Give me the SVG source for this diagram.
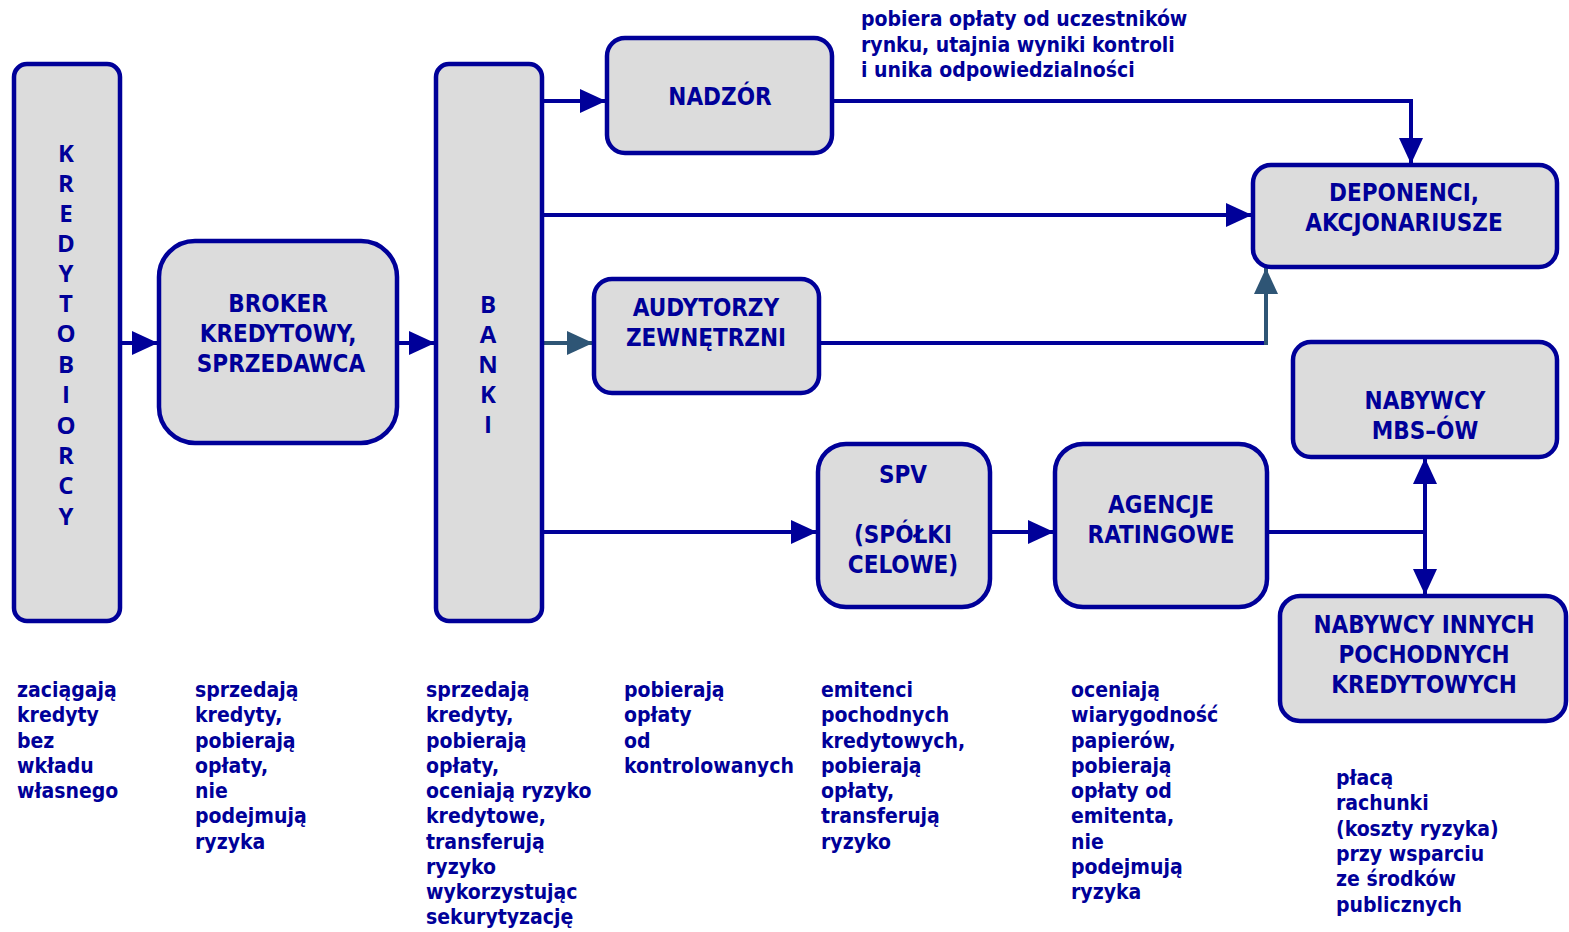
<svg xmlns="http://www.w3.org/2000/svg" width="1569" height="932" viewBox="0 0 1569 932">
<defs>
<style>
.n{fill:#DCDCDC;stroke:#000099;stroke-width:4.5}
.t{font-family:"DejaVu Sans","Liberation Sans",sans-serif;font-stretch:condensed;font-weight:bold;fill:#000099}
.nt{font-size:24px;text-anchor:middle}
.vt{font-family:"Open Sans","DejaVu Sans",sans-serif;font-weight:bold;fill:#000099;font-size:24px;text-anchor:middle}
.d{font-size:21px}
.c{fill:none;stroke:#000099;stroke-width:4}
.ct{fill:none;stroke:#2E5575;stroke-width:4}
</style>
<marker id="ah" viewBox="0 0 26 24" markerWidth="26" markerHeight="24" refX="26" refY="12" orient="auto" markerUnits="userSpaceOnUse"><path d="M0,0 L26,12 L0,24 Z" fill="#000099"/></marker>
<marker id="ahs" viewBox="0 0 26 24" markerWidth="26" markerHeight="24" refX="26" refY="12" orient="auto-start-reverse" markerUnits="userSpaceOnUse"><path d="M0,0 L26,12 L0,24 Z" fill="#000099"/></marker>
<marker id="aht" viewBox="0 0 26 24" markerWidth="26" markerHeight="24" refX="26" refY="12" orient="auto" markerUnits="userSpaceOnUse"><path d="M0,0 L26,12 L0,24 Z" fill="#2E5575"/></marker>
</defs>
<rect width="1569" height="932" fill="#FFFFFF"/>
<g id="connectors">
<line class="c" x1="120" y1="343" x2="158" y2="343" marker-end="url(#ah)"/>
<line class="c" x1="397" y1="343" x2="435" y2="343" marker-end="url(#ah)"/>
<line class="c" x1="542" y1="101" x2="606" y2="101" marker-end="url(#ah)"/>
<line class="c" x1="542" y1="215" x2="1252" y2="215" marker-end="url(#ah)"/>
<line class="ct" x1="542" y1="343" x2="593" y2="343" marker-end="url(#aht)"/>
<polyline class="c" points="832,101 1411,101 1411,164" marker-end="url(#ah)"/>
<line class="c" x1="819" y1="343" x2="1267" y2="343"/>
<line class="ct" x1="1266" y1="345" x2="1266" y2="268" marker-end="url(#aht)"/>
<line class="c" x1="542" y1="532" x2="817" y2="532" marker-end="url(#ah)"/>
<line class="c" x1="990" y1="532" x2="1054" y2="532" marker-end="url(#ah)"/>
<line class="c" x1="1267" y1="532" x2="1425" y2="532"/>
<line class="c" x1="1425" y1="458" x2="1425" y2="595" marker-start="url(#ahs)" marker-end="url(#ah)"/>
</g>
<g id="kredytobiorcy">
<rect class="n" x="14" y="64" width="106" height="557" rx="13"/>
<text class="vt"><tspan x="66" y="162">K</tspan><tspan x="66" y="192">R</tspan><tspan x="66" y="222">E</tspan><tspan x="66" y="252">D</tspan><tspan x="66" y="282">Y</tspan><tspan x="66" y="312">T</tspan><tspan x="66" y="342">O</tspan><tspan x="66" y="373">B</tspan><tspan x="66" y="403">I</tspan><tspan x="66" y="434">O</tspan><tspan x="66" y="464">R</tspan><tspan x="66" y="494">C</tspan><tspan x="66" y="525">Y</tspan></text>
</g>
<g id="broker">
<rect class="n" x="159" y="241" width="238" height="202" rx="36"/>
<text class="t nt"><tspan x="278" y="312">BROKER</tspan><tspan x="278" y="342">KREDYTOWY,</tspan><tspan x="281" y="372">SPRZEDAWCA</tspan></text>
</g>
<g id="banki">
<rect class="n" x="436" y="64" width="106" height="557" rx="13"/>
<text class="vt"><tspan x="488" y="313">B</tspan><tspan x="488" y="343">A</tspan><tspan x="488" y="373">N</tspan><tspan x="488" y="403">K</tspan><tspan x="488" y="433">I</tspan></text>
</g>
<g id="nadzor">
<rect class="n" x="607" y="38" width="225" height="115" rx="18"/>
<text class="t nt" x="720" y="105">NADZÓR</text>
</g>
<g id="deponenci">
<rect class="n" x="1253" y="165" width="304" height="102" rx="18"/>
<text class="t nt"><tspan x="1404" y="201">DEPONENCI,</tspan><tspan x="1404" y="231">AKCJONARIUSZE</tspan></text>
</g>
<g id="audytorzy">
<rect class="n" x="594" y="279" width="225" height="114" rx="18"/>
<text class="t nt"><tspan x="706" y="316">AUDYTORZY</tspan><tspan x="706" y="346">ZEWNĘTRZNI</tspan></text>
</g>
<g id="nabywcy-mbs">
<rect class="n" x="1293" y="342" width="264" height="115" rx="18"/>
<text class="t nt"><tspan x="1425" y="409">NABYWCY</tspan><tspan x="1425" y="439">MBS–ÓW</tspan></text>
</g>
<g id="spv">
<rect class="n" x="818" y="444" width="172" height="163" rx="28"/>
<text class="t nt"><tspan x="903" y="483">SPV</tspan><tspan x="903" y="543">(SPÓŁKI</tspan><tspan x="903" y="573">CELOWE)</tspan></text>
</g>
<g id="agencje">
<rect class="n" x="1055" y="444" width="212" height="163" rx="28"/>
<text class="t nt"><tspan x="1161" y="513">AGENCJE</tspan><tspan x="1161" y="543">RATINGOWE</tspan></text>
</g>
<g id="nabywcy-innych">
<rect class="n" x="1280" y="596" width="286" height="125" rx="20"/>
<text class="t nt"><tspan x="1424" y="633">NABYWCY INNYCH</tspan><tspan x="1424" y="663">POCHODNYCH</tspan><tspan x="1424" y="693">KREDYTOWYCH</tspan></text>
</g>
<g id="labels">
<text class="t d"><tspan x="861" y="26">pobiera opłaty od uczestników</tspan><tspan x="861" y="52">rynku, utajnia wyniki kontroli</tspan><tspan x="861" y="77">i unika odpowiedzialności</tspan></text>
<text class="t d"><tspan x="17" y="697">zaciągają</tspan><tspan x="17" y="722">kredyty</tspan><tspan x="17" y="748">bez</tspan><tspan x="17" y="773">wkładu</tspan><tspan x="17" y="798">własnego</tspan></text>
<text class="t d"><tspan x="195" y="697">sprzedają</tspan><tspan x="195" y="722">kredyty,</tspan><tspan x="195" y="748">pobierają</tspan><tspan x="195" y="773">opłaty,</tspan><tspan x="195" y="798">nie</tspan><tspan x="195" y="823">podejmują</tspan><tspan x="195" y="849">ryzyka</tspan></text>
<text class="t d"><tspan x="426" y="697">sprzedają</tspan><tspan x="426" y="722">kredyty,</tspan><tspan x="426" y="748">pobierają</tspan><tspan x="426" y="773">opłaty,</tspan><tspan x="426" y="798">oceniają ryzyko</tspan><tspan x="426" y="823">kredytowe,</tspan><tspan x="426" y="849">transferują</tspan><tspan x="426" y="874">ryzyko</tspan><tspan x="426" y="899">wykorzystując</tspan><tspan x="426" y="924">sekurytyzację</tspan></text>
<text class="t d"><tspan x="624" y="697">pobierają</tspan><tspan x="624" y="722">opłaty</tspan><tspan x="624" y="748">od</tspan><tspan x="624" y="773">kontrolowanych</tspan></text>
<text class="t d"><tspan x="821" y="697">emitenci</tspan><tspan x="821" y="722">pochodnych</tspan><tspan x="821" y="748">kredytowych,</tspan><tspan x="821" y="773">pobierają</tspan><tspan x="821" y="798">opłaty,</tspan><tspan x="821" y="823">transferują</tspan><tspan x="821" y="849">ryzyko</tspan></text>
<text class="t d"><tspan x="1071" y="697">oceniają</tspan><tspan x="1071" y="722">wiarygodność</tspan><tspan x="1071" y="748">papierów,</tspan><tspan x="1071" y="773">pobierają</tspan><tspan x="1071" y="798">opłaty od</tspan><tspan x="1071" y="823">emitenta,</tspan><tspan x="1071" y="849">nie</tspan><tspan x="1071" y="874">podejmują</tspan><tspan x="1071" y="899">ryzyka</tspan></text>
<text class="t d"><tspan x="1336" y="785">płacą</tspan><tspan x="1336" y="810">rachunki</tspan><tspan x="1336" y="836">(koszty ryzyka)</tspan><tspan x="1336" y="861">przy wsparciu</tspan><tspan x="1336" y="886">ze środków</tspan><tspan x="1336" y="912">publicznych</tspan></text>
</g>
</svg>
